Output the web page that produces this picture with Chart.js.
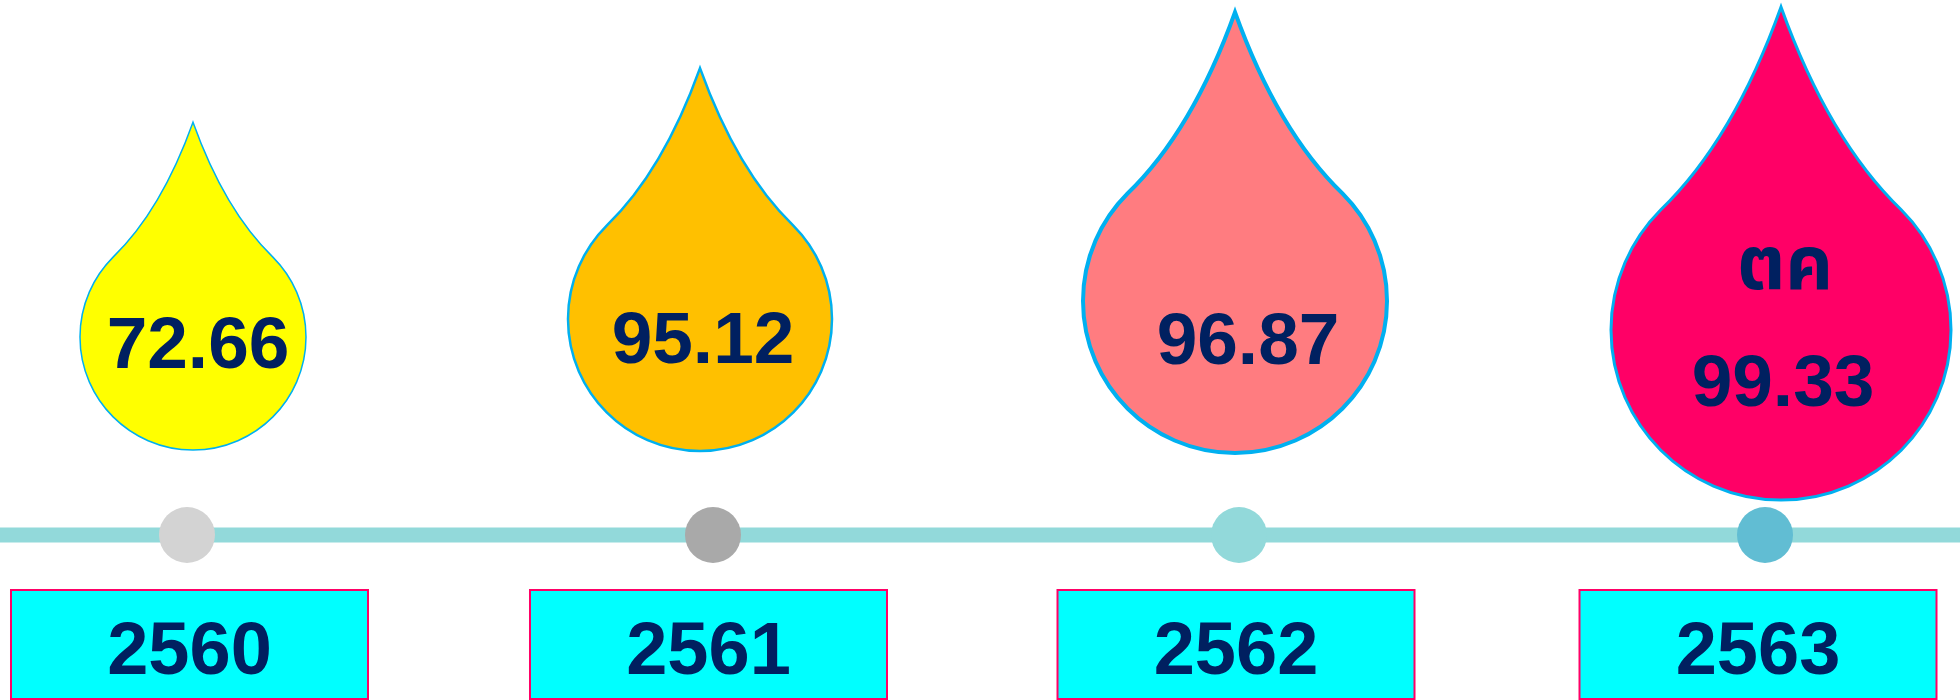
<!DOCTYPE html>
<html>
<head>
<meta charset="utf-8">
<script src="https://cdn.jsdelivr.net/npm/chart.js@4.4.1/dist/chart.umd.min.js"></script>
<style>
html, body { margin: 0; padding: 0; background: #ffffff; }
#wrap { width: 1960px; height: 700px; }
</style>
</head>
<body>
<div id="wrap"><canvas id="chart" width="1960" height="700"></canvas></div>
<script>
// data
const years = ['2560', '2561', '2562', '2563'];
const scores = [72.66, 95.12, 96.87, 99.33];
const notes = ['', '', '', 'ตค'];

// looks
const dropFill = ['#FFFF00', '#FFC000', '#FF7C80', '#FF0066'];
const dropEdge = [1.5, 2.5, 4, 3];
const dropRadius = [113, 132, 152, 170];
const dropBase = [85, 84, 82, 35];      // bottom of drop, px above the timeline
const dropShift = [6, -13, -4, 16];     // px, drop centre vs timeline dot
const textShift = [5, 3, 13, 2];        // px, value text vs drop centre
const labelLift = [167, 172, 171, 129]; // value baseline, px above the timeline
const noteLift = 246;
const boxShift = [2.5, -4.5, -3, -7];
const dotColors = ['#D3D3D3', '#A9A9A9', '#92D9DA', '#61BDD3'];
const lineColor = '#92D9DA';
const textColor = '#002060';

const dropsPlugin = {
    id: 'drops',
    afterDatasetsDraw(chart) {
        const ctx = chart.ctx;
        const xs = chart.scales.x;
        const ys = chart.scales.y;
        const k = Math.SQRT1_2;

        years.forEach((yr, i) => {
            const px = xs.getPixelForValue(i);
            const cx = px + dropShift[i];
            const r = dropRadius[i];
            const cy = ys.getPixelForValue(dropBase[i]) - r;

            // the drop
            ctx.save();
            ctx.beginPath();
            ctx.moveTo(cx, cy - 1.9 * r);
            ctx.quadraticCurveTo(cx + 0.28 * r, cy - 1.12 * r, cx + k * r, cy - k * r);
            ctx.arc(cx, cy, r, -Math.PI / 4, Math.PI * 5 / 4);
            ctx.quadraticCurveTo(cx - 0.28 * r, cy - 1.12 * r, cx, cy - 1.9 * r);
            ctx.closePath();
            ctx.fillStyle = dropFill[i];
            ctx.fill();
            ctx.lineWidth = dropEdge[i];
            ctx.lineJoin = 'miter';
            ctx.strokeStyle = '#00B0F0';
            ctx.stroke();

            ctx.fillStyle = textColor;
            ctx.textAlign = 'center';
            ctx.textBaseline = 'alphabetic';
            ctx.font = 'bold 73px "Liberation Sans", Arial, sans-serif';
            ctx.fillText(scores[i].toFixed(2), cx + textShift[i], ys.getPixelForValue(labelLift[i]));
            if (notes[i]) {
                ctx.font = 'bold 74px "Noto Sans Thai", "Noto Sans", "DejaVu Sans", sans-serif';
                ctx.fillText(notes[i], cx + textShift[i] + 2, ys.getPixelForValue(noteLift));
            }

            // year box
            const bx = px + boxShift[i];
            const top = ys.getPixelForValue(-55);
            const bottom = ys.getPixelForValue(-164);
            const w = 357;
            ctx.fillStyle = '#00FFFF';
            ctx.fillRect(bx - w / 2, top, w, bottom - top);
            ctx.lineWidth = 2;
            ctx.strokeStyle = '#FF0066';
            ctx.strokeRect(bx - w / 2, top, w, bottom - top);
            ctx.fillStyle = textColor;
            ctx.font = 'bold 74px "Liberation Sans", Arial, sans-serif';
            ctx.fillText(yr, bx, ys.getPixelForValue(-139));
            ctx.restore();
        });
    }
};

new Chart(document.getElementById('chart'), {
    type: 'line',
    data: {
        datasets: [
            {
                // timeline bar
                data: [{ x: -0.3555, y: 0 }, { x: 3.3707, y: 0 }],
                borderColor: lineColor,
                borderWidth: 15,
                pointRadius: 0,
                order: 2
            },
            {
                data: years.map((y, i) => ({ x: i, y: 0 })),
                showLine: false,
                pointRadius: 28,
                pointBorderWidth: 0,
                pointBackgroundColor: dotColors,
                order: 1
            }
        ]
    },
    options: {
        responsive: false,
        devicePixelRatio: 1,
        animation: false,
        layout: { padding: 0, autoPadding: false },
        plugins: { legend: { display: false }, tooltip: { enabled: false } },
        scales: {
            x: { type: 'linear', min: -0.3555, max: 3.3707, display: false },
            y: { type: 'linear', min: -165, max: 535, display: false }
        }
    },
    plugins: [dropsPlugin]
});
</script>
</body>
</html>
